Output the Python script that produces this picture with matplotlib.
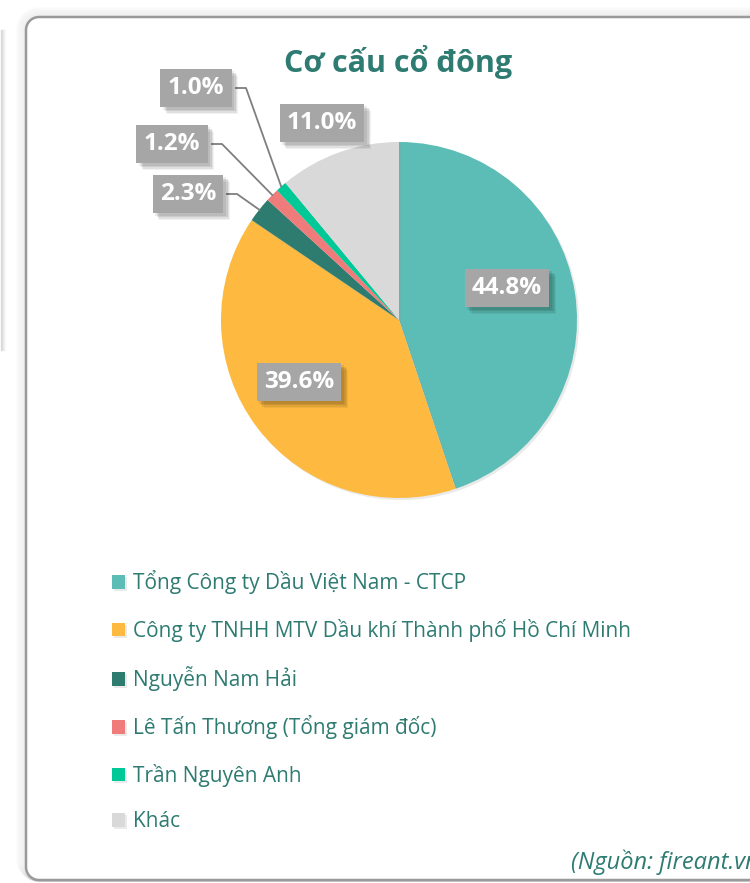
import numpy as np
import matplotlib
matplotlib.use("Agg")
import matplotlib.pyplot as plt
from matplotlib.patches import PathPatch
from matplotlib.path import Path
from matplotlib.lines import Line2D
import matplotlib.patheffects as pe

plt.rcParams['font.family'] = ['Open Sans', 'DejaVu Sans']

title = "Cơ cấu cổ đông"
categories = ["Tổng Công ty Dầu Việt Nam - CTCP",
              "Công ty TNHH MTV Dầu khí Thành phố Hồ Chí Minh",
              "Nguyễn Nam Hải",
              "Lê Tấn Thương (Tổng giám đốc)",
              "Trần Nguyên Anh",
              "Khác"]
values = [44.8, 39.6, 2.3, 1.2, 1.0, 11.0]
colors = ["#5BBDB5", "#FDB940", "#2E7B70", "#F07B7B", "#00C896", "#D9D9D9"]
source = "(Nguồn: fireant.vn)"

TEAL = "#2E7B72"
W, H = 750, 883
fig = plt.figure(figsize=(W / 100, H / 100), dpi=100)
fig.patch.set_facecolor("white")


def card_path(x0, y0, y1, xr, rad):
    """Open path (pixel coords, y down): right-top -> left side -> right-bottom."""
    k = 0.5523 * rad
    verts = [(xr, y0), (x0 + rad, y0),
             (x0 + rad - k, y0), (x0, y0 + rad - k), (x0, y0 + rad),
             (x0, y1 - rad),
             (x0, y1 - rad + k), (x0 + rad - k, y1), (x0 + rad, y1),
             (xr, y1)]
    codes = [Path.MOVETO, Path.LINETO,
             Path.CURVE4, Path.CURVE4, Path.CURVE4,
             Path.LINETO,
             Path.CURVE4, Path.CURVE4, Path.CURVE4,
             Path.LINETO]
    verts = [(x, H - y) for x, y in verts]
    return Path(verts, codes)


# faint neighbouring card shadow on far left
for i, a in enumerate([0.22, 0.16, 0.10, 0.06, 0.03]):
    fig.add_artist(Line2D([i + 0.5, i + 0.5], [H - 30, H - 350], color=(0.4, 0.4, 0.4, a),
                          lw=1, transform=None, zorder=0))

# card with soft shadow
cx0, cy0, cy1, xr, rad = 26, 17, 880, 760, 13
for i in range(9, 0, -1):
    fig.add_artist(PathPatch(card_path(cx0 - i, cy0 - i, cy1 + 1, xr, rad + i),
                             transform=None, facecolor="none",
                             edgecolor=(0.3, 0.3, 0.3, 0.045 * (10 - i) / 9 + 0.01),
                             lw=1.2, zorder=1))
fig.add_artist(PathPatch(card_path(cx0, cy0, cy1, xr, rad), transform=None,
                         facecolor="white", edgecolor="none", zorder=2))
fig.add_artist(PathPatch(card_path(cx0, cy0, cy1, xr, rad), transform=None,
                         facecolor="none", edgecolor="#9A9A9A", lw=1.8, zorder=2))

# pie axes: center (399,320), radius 178 px
pcx, pcy, r = 399, 320, 178
ax = fig.add_axes([(pcx - r) / W, 1 - (pcy + r) / H, 2 * r / W, 2 * r / H], zorder=3)
wedges, _ = ax.pie(values, colors=colors, startangle=90, counterclock=False,
                   radius=1.0, wedgeprops=dict(linewidth=0))
for w in wedges:
    w.set_path_effects([pe.SimplePatchShadow(offset=(1.5, -1.5), shadow_rgbFace="#999999", alpha=0.2),
                        pe.Normal()])
ax.set_xlim(-1, 1)
ax.set_ylim(-1, 1)
ax.set_aspect("equal")
ax.axis("off")

fig.text(398 / W, 1 - 62 / H, title, ha="center", va="center", fontsize=22,
         fontweight="bold", color=TEAL, zorder=5)

# label boxes (center in px) and whether a leader line is drawn
label_pos = [(507, 288), (299, 382), (188, 194), (172, 144), (196, 88), (322, 123)]
leader = [False, False, True, True, True, False]
box_half_w = [46, 46, 39, 40, 40, 46]

shadow_fx = [pe.SimplePatchShadow(offset=(o, -o), shadow_rgbFace="#000000", alpha=a)
             for o, a in [(5, 0.05), (4, 0.07), (3, 0.09), (2, 0.08)]]

inv = ax.transData.inverted()
for i, (w, v) in enumerate(zip(wedges, values)):
    px, py = label_pos[i]
    t = fig.text(px / W, 1 - py / H, f"{v:.1f}%", ha="center", va="center",
                 fontsize=17.5, fontweight="bold", color="white", zorder=8,
                 bbox=dict(boxstyle="square,pad=0.3", facecolor="#A6A6A6",
                           edgecolor="none"))
    t.get_bbox_patch().set_path_effects(shadow_fx + [pe.Normal()])
    if leader[i]:
        mid = np.deg2rad((w.theta1 + w.theta2) / 2)
        ex, ey = np.cos(mid), np.sin(mid)
        x0 = px + box_half_w[i]
        x1 = x0 + 10
        a0 = inv.transform((x0, H - py))
        a1 = inv.transform((x1, H - py))
        ax.add_line(Line2D([a0[0], a1[0], ex], [a0[1], a1[1], ey], color="#7F7F7F",
                           lw=1.3, clip_on=False, zorder=6))

# legend
leg = fig.legend(wedges, categories, loc="upper left",
                 bbox_to_anchor=(104 / W, 1 - 562 / H), frameon=False,
                 fontsize=15, labelcolor=TEAL, handlelength=0.62, handleheight=0.62,
                 handletextpad=0.35, labelspacing=1.17, borderaxespad=0)
leg.set_zorder(6)

fig.text(571 / W, 1 - 862 / H, source, ha="left", va="center", fontsize=17,
         style="italic", color=TEAL, zorder=6)

fig.savefig("out.png", dpi=100, facecolor="white")
